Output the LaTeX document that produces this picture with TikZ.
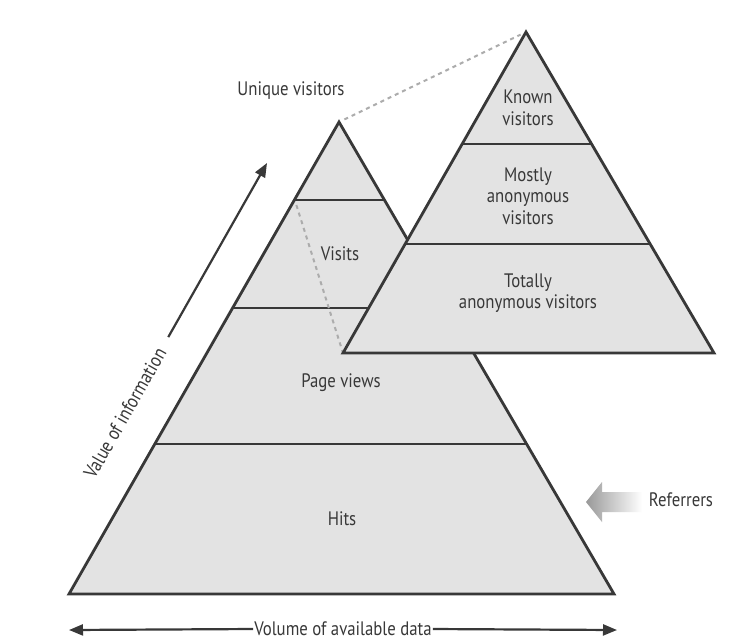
\documentclass[tikz,border=0pt]{standalone}
\usepackage{fontspec}
\setmainfont[FakeStretch=0.86]{PT Sans}
\usetikzlibrary{arrows.meta,calc}
\definecolor{ink}{HTML}{383838}
\definecolor{pfill}{HTML}{E3E3E3}
\begin{document}
\begin{tikzpicture}[x=1pt,y=-1pt,
  pyr/.style={draw=ink,line width=2.8pt,fill=pfill,line join=miter},
  lvl/.style={draw=ink,line width=2.8pt},
  lbl/.style={font=\fontsize{19.5}{21.5}\selectfont,text=ink,align=center,inner sep=0pt},
  dashlink/.style={draw=gray!65,line width=2pt,dash pattern=on 4pt off 4pt},
  axis/.style={draw=ink,line width=2.2pt,-{Triangle[length=14pt,width=11pt]}}]
\useasboundingbox (0,0) rectangle (746,641);
\fill[white] (0,0) rectangle (746,641);

% left pyramid
\coordinate (LA) at (339,122);
\coordinate (LBL) at (69,594);
\coordinate (LBR) at (614,594);
\path[pyr] (LA) -- (LBR) -- (LBL) -- cycle;
\coordinate (L1l) at ($(LA)!0.1653!(LBL)$);
\coordinate (L1r) at ($(LA)!0.1653!(LBR)$);
\coordinate (L2l) at ($(LA)!0.3941!(LBL)$);
\coordinate (L2r) at ($(LA)!0.3941!(LBR)$);
\coordinate (L3l) at ($(LA)!0.6822!(LBL)$);
\coordinate (L3r) at ($(LA)!0.6822!(LBR)$);
\draw[lvl] (L1l) -- (L1r);
\draw[lvl] (L2l) -- (L2r);
\draw[lvl] (L3l) -- (L3r);

% right pyramid
\coordinate (RA) at (526,32);
\coordinate (RBL) at (343,353);
\coordinate (RBR) at (714,353);

% dashed links
\draw[dashlink] ($(LA)!6pt!(RA)$) -- ($(RA)!6pt!(LA)$);
\draw[dashlink] ($(L1l)+(2,5)$) -- (RBL);

\path[pyr] (RA) -- (RBR) -- (RBL) -- cycle;
\coordinate (R1l) at ($(RA)!0.3489!(RBL)$);
\coordinate (R1r) at ($(RA)!0.3489!(RBR)$);
\coordinate (R2l) at ($(RA)!0.6604!(RBL)$);
\coordinate (R2r) at ($(RA)!0.6604!(RBR)$);
\draw[lvl] (R1l) -- (R1r);
\draw[lvl] (R2l) -- (R2r);

% labels
\node[lbl] (uv) at (291,91) {Unique visitors};
\node[lbl] (kv) at (528,108) {Known\\visitors};
\node[lbl] (mav) at (528,196) {Mostly\\anonymous\\visitors};
\node[lbl] (tav) at (528,293) {Totally\\anonymous visitors};
\node[lbl] (vis) at (340,254) {Visits};
\node[lbl] (pv) at (341,383) {Page views};
\node[lbl] (hits) at (342,519) {Hits};

% referrers
\node[lbl] (ref) at (681,500) {Referrers};
\coordinate (rtip) at (586,502);
\shade[left color=gray!80,right color=white]
  (rtip) -- ++(16,-20) -- ++(0,10) -- ++(40,0) -- ++(0,20) -- ++(-40,0) -- ++(0,10) -- cycle;

% volume axis
\node[lbl,fill=white,inner xsep=1pt] (vol) at (343,629) {Volume of available data};
\coordinate (volL) at (69,630);
\coordinate (volR) at (617,630);
\draw[axis] (vol.west) -- (volL);
\draw[axis] (vol.east) -- (volR);

% value axis
\node[lbl,rotate=60.3] (val) at (125,413) {Value of information};
\coordinate (valtip) at (267,163);
\draw[axis,shorten <=14pt] (val.east) -- (valtip);
\end{tikzpicture}
\end{document}
